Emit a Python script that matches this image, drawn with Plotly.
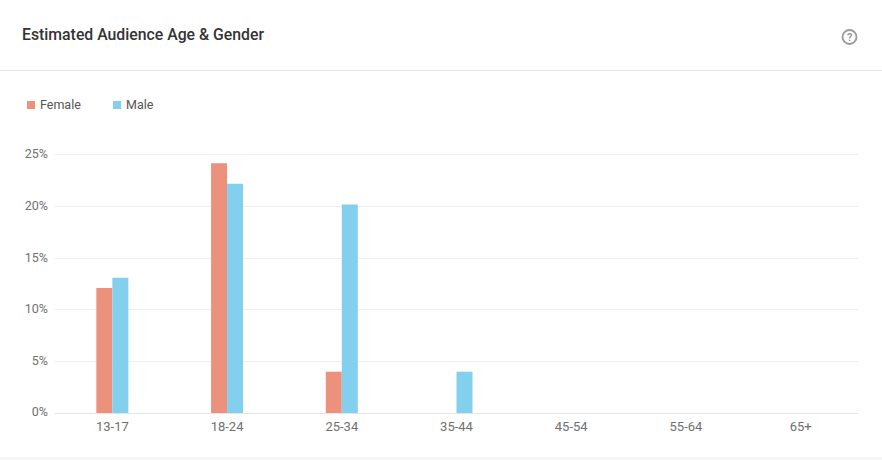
import plotly.graph_objects as go

categories = ["13-17", "18-24", "25-34", "35-44", "45-54", "55-64", "65+"]
female = [12.1, 24.2, 4.0, 0, 0, 0, 0]
male = [13.1, 22.2, 20.2, 4.0, 0, 0, 0]
y_ticks = [0, 5, 10, 15, 20, 25]
y_labels = ["0%", "5%", "10%", "15%", "20%", "25%"]

W, H = 882, 460
L, R, T, B = 55, 24, 153, 47
FEMALE_C, MALE_C = "#ec917c", "#83cfee"
TICK = "#707070"

def px(x):
    return (x - L) / (W - L - R)

def py(y):
    return (H - B - y) / (H - T - B)

fig = go.Figure()
fig.add_bar(name="Female", x=categories, y=female, marker=dict(color=FEMALE_C, line_width=0))
fig.add_bar(name="Male", x=categories, y=male, marker=dict(color=MALE_C, line_width=0))

shapes = [
    dict(type="line", xref="paper", yref="paper", x0=px(0), x1=px(W), y0=py(70.5), y1=py(70.5),
         line=dict(color="#e4e4e4", width=1)),
    dict(type="rect", xref="paper", yref="paper", x0=px(0), x1=px(W), y0=py(460), y1=py(457),
         fillcolor="#f5f5f5", line_width=0),
    dict(type="rect", xref="paper", yref="paper", x0=px(27), x1=px(35), y0=py(109), y1=py(101),
         fillcolor=FEMALE_C, line_width=0),
    dict(type="rect", xref="paper", yref="paper", x0=px(113), x1=px(121), y0=py(109), y1=py(101),
         fillcolor=MALE_C, line_width=0),
    dict(type="circle", xref="paper", yref="paper", x0=px(842.5), x1=px(856.5), y0=py(44), y1=py(30),
         line=dict(color="#9a9a9a", width=1.8)),
]

def note(text, x, y, size, color, anchor="left", **font):
    return dict(text=text, xref="paper", yref="paper", x=px(x), y=py(y), xanchor=anchor, yanchor="middle",
                showarrow=False, font=dict(family="Roboto", size=size, color=color, **font))

annotations = [
    note("Estimated Audience Age &amp; Gender", 20, 34.5, 15.8, "#333333", weight=500),
    note("Female", 38, 104, 12.5, "#555555"),
    note("Male", 124, 104, 12.5, "#555555"),
    note("?", 849.5, 37, 11, "#9a9a9a", anchor="center", weight=700),
]

fig.update_layout(
    width=W, height=H, autosize=False,
    margin=dict(l=L, r=R, t=T, b=B),
    paper_bgcolor="white", plot_bgcolor="white",
    barmode="group", bargap=0.721, bargroupgap=0,
    showlegend=False, shapes=shapes, annotations=annotations,
    font=dict(family="Roboto", size=12.5, color=TICK),
    xaxis=dict(type="category", categoryorder="array", categoryarray=categories, showgrid=False,
               showline=True, linecolor="#e4e4e4", linewidth=1, ticks="", ticklabelstandoff=1,
               tickfont=dict(size=13, color=TICK)),
    yaxis=dict(range=[0, 25.19], tickvals=y_ticks, ticktext=y_labels, showgrid=True, gridcolor="#f0f0f0",
               gridwidth=1, zeroline=False, showline=False, ticks="", ticklabelstandoff=6, ticklabelshift=-1,
               tickfont=dict(size=12.5, color=TICK)),
)

fig.write_html("out.html", config=dict(displayModeBar=False),
               post_script="document.body.style.margin='0';document.documentElement.style.overflow='hidden';")
